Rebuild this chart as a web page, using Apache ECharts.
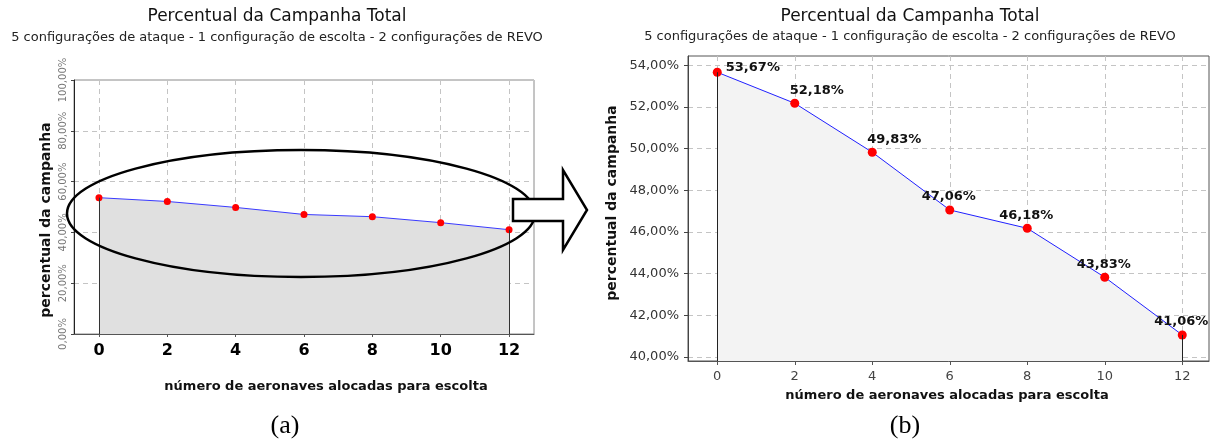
<!DOCTYPE html>
<html><head><meta charset="utf-8">
<script src="https://cdn.jsdelivr.net/npm/echarts@6/dist/echarts.min.js"></script>
<style>html,body{margin:0;padding:0;background:#fff}#c{width:1210px;height:444px}</style>
</head><body><div id="c"></div>
<script>
// ---- data ----
const escortAircraft = [0, 2, 4, 6, 8, 10, 12];
const campaignPct = [53.67, 52.18, 49.83, 47.06, 46.18, 43.83, 41.06];
const xTickValues = [0, 2, 4, 6, 8, 10, 12];
const yTicksFull = [0, 20, 40, 60, 80, 100];
const yTicksZoom = [40, 42, 44, 46, 48, 50, 52, 54];
const chartTitle = 'Percentual da Campanha Total';
const chartSubtitle = '5 configurações de ataque - 1 configuração de escolta - 2 configurações de REVO';
const xTitle = 'número de aeronaves alocadas para escolta';
const yTitle = 'percentual da campanha';
const panelLabels = ['(a)', '(b)'];

// ---- chart ----
const FONT = 'DejaVu Sans';
const fmt = v => Number(v).toFixed(2).replace('.', ',') + '%';
const pairs = escortAircraft.map((x, i) => [x, campaignPct[i]]);
const nLast = escortAircraft.length - 1;

const zoomMin = 39.81, zoomMax = 54.45;

function edgeLines(yBase, color) {
  return {
    symbol: 'none', silent: true, label: { show: false },
    lineStyle: { color: color, width: 1, type: 'solid' },
    emphasis: { disabled: true },
    data: [
      [{ coord: [escortAircraft[0], yBase] }, { coord: [escortAircraft[0], campaignPct[0]] }],
      [{ coord: [escortAircraft[nLast], yBase] }, { coord: [escortAircraft[nLast], campaignPct[nLast]] }]
    ]
  };
}

const dash = { color: '#c4c4c4', type: [5, 4], width: 1 };

const option = {
  animation: false,
  backgroundColor: '#ffffff',
  grid: [
    { left: 74, top: 80, width: 460, height: 254, show: true, borderColor: '#8a8a8a', borderWidth: 1, backgroundColor: '#ffffff' },
    { left: 688, top: 56, width: 521, height: 305, show: true, borderColor: '#555555', borderWidth: 1, backgroundColor: '#ffffff' }
  ],
  xAxis: [
    {
      gridIndex: 0, type: 'value', min: -0.73, max: 12.73, splitNumber: 7,
      axisLine: { show: true, onZero: false, lineStyle: { color: '#555', width: 1 } },
      axisTick: { show: true, customValues: xTickValues, length: 3, lineStyle: { color: '#555' } },
      axisLabel: { customValues: xTickValues, fontFamily: FONT, fontWeight: 'bold', fontSize: 16, color: '#000', margin: 9 },
      splitLine: { show: true, lineStyle: dash }
    },
    {
      gridIndex: 1, type: 'value', min: -0.755, max: 12.69, splitNumber: 7,
      axisLine: { show: true, onZero: false, lineStyle: { color: '#555', width: 1 } },
      axisTick: { show: true, customValues: xTickValues, length: 4, lineStyle: { color: '#555' } },
      axisLabel: { customValues: xTickValues, fontFamily: FONT, fontSize: 13, color: '#444', margin: 9 },
      splitLine: { show: true, lineStyle: dash }
    }
  ],
  yAxis: [
    {
      gridIndex: 0, type: 'value', min: yTicksFull[0], max: yTicksFull[yTicksFull.length - 1], interval: 20,
      axisLine: { show: true, onZero: false, lineStyle: { color: '#222', width: 1 } },
      axisTick: { show: true, length: 3, lineStyle: { color: '#444' } },
      axisLabel: { rotate: 90, formatter: fmt, fontFamily: FONT, fontSize: 10, color: '#777', margin: 6 },
      splitLine: { show: true, lineStyle: dash }
    },
    {
      gridIndex: 1, type: 'value', min: zoomMin, max: zoomMax, splitNumber: 7,
      axisLine: { show: true, onZero: false, lineStyle: { color: '#444', width: 1 } },
      axisTick: { show: true, customValues: yTicksZoom, length: 4, lineStyle: { color: '#444' } },
      axisLabel: { customValues: yTicksZoom, formatter: fmt, fontFamily: FONT, fontSize: 13, color: '#333', margin: 9 },
      splitLine: { show: true, lineStyle: dash }
    }
  ],
  series: [
    {
      type: 'line', xAxisIndex: 0, yAxisIndex: 0, data: pairs,
      symbol: 'circle', symbolSize: 7, itemStyle: { color: '#ff0000' },
      lineStyle: { color: '#3a3aff', width: 1 },
      areaStyle: { color: '#e0e0e0', opacity: 1, origin: 'start' },
      markLine: edgeLines(yTicksFull[0], '#333'),
      z: 3
    },
    {
      type: 'line', xAxisIndex: 1, yAxisIndex: 1,
      data: pairs.map((d, i) => {
        if (i === 0) return { value: d, label: { position: 'right', distance: 4, offset: [0, -5] } };
        if (i < 3) return { value: d, label: { offset: [22, 0] } };
        return { value: d, label: { offset: [-1, 0] } };
      }),
      symbol: 'circle', symbolSize: 9, itemStyle: { color: '#ff0000' },
      lineStyle: { color: '#2020ff', width: 1 },
      areaStyle: { color: '#f3f3f3', opacity: 1, origin: 'start' },
      label: {
        show: true, position: 'top', distance: 2,
        formatter: p => fmt(p.value[1]),
        fontFamily: FONT, fontWeight: 'bold', fontSize: 13, color: '#111'
      },
      markLine: edgeLines(zoomMin, '#222'),
      z: 3
    }
  ],
  graphic: [
    { type: 'text', x: 277, y: 17, style: { text: chartTitle, font: '17px "DejaVu Sans"', fill: '#111', textAlign: 'center', textVerticalAlign: 'middle' } },
    { type: 'text', x: 277, y: 38, style: { text: chartSubtitle, font: '13px "DejaVu Sans"', fill: '#222', textAlign: 'center', textVerticalAlign: 'middle' } },
    { type: 'text', x: 910, y: 17, style: { text: chartTitle, font: '17px "DejaVu Sans"', fill: '#111', textAlign: 'center', textVerticalAlign: 'middle' } },
    { type: 'text', x: 910, y: 37, style: { text: chartSubtitle, font: '13px "DejaVu Sans"', fill: '#222', textAlign: 'center', textVerticalAlign: 'middle' } },
    { type: 'text', x: 46, y: 220, rotation: Math.PI / 2, style: { text: yTitle, font: 'bold 14px "DejaVu Sans"', fill: '#111', textAlign: 'center', textVerticalAlign: 'middle' } },
    { type: 'text', x: 612, y: 203, rotation: Math.PI / 2, style: { text: yTitle, font: 'bold 14px "DejaVu Sans"', fill: '#111', textAlign: 'center', textVerticalAlign: 'middle' } },
    { type: 'text', x: 326, y: 387, style: { text: xTitle, font: 'bold 13px "DejaVu Sans"', fill: '#111', textAlign: 'center', textVerticalAlign: 'middle' } },
    { type: 'text', x: 947, y: 396, style: { text: xTitle, font: 'bold 13px "DejaVu Sans"', fill: '#111', textAlign: 'center', textVerticalAlign: 'middle' } },
    { type: 'text', x: 285, y: 426, style: { text: panelLabels[0], font: '26px "Liberation Serif"', fill: '#000', textAlign: 'center', textVerticalAlign: 'middle' } },
    { type: 'text', x: 905, y: 426, style: { text: panelLabels[1], font: '26px "Liberation Serif"', fill: '#000', textAlign: 'center', textVerticalAlign: 'middle' } },
    { type: 'ellipse', z: 100, shape: { cx: 301, cy: 213.5, rx: 234, ry: 63.5 }, style: { fill: 'none', stroke: '#000', lineWidth: 2.5 } },
    { type: 'polygon', z: 101, shape: { points: [[513, 199], [563, 199], [563, 170], [587, 210], [563, 250], [563, 221], [513, 221]] }, style: { fill: '#fff', stroke: '#000', lineWidth: 2.5 } }
  ]
};

const chart = echarts.init(document.getElementById('c'), null, { renderer: 'canvas' });
chart.setOption(option);
</script>
</body></html>
